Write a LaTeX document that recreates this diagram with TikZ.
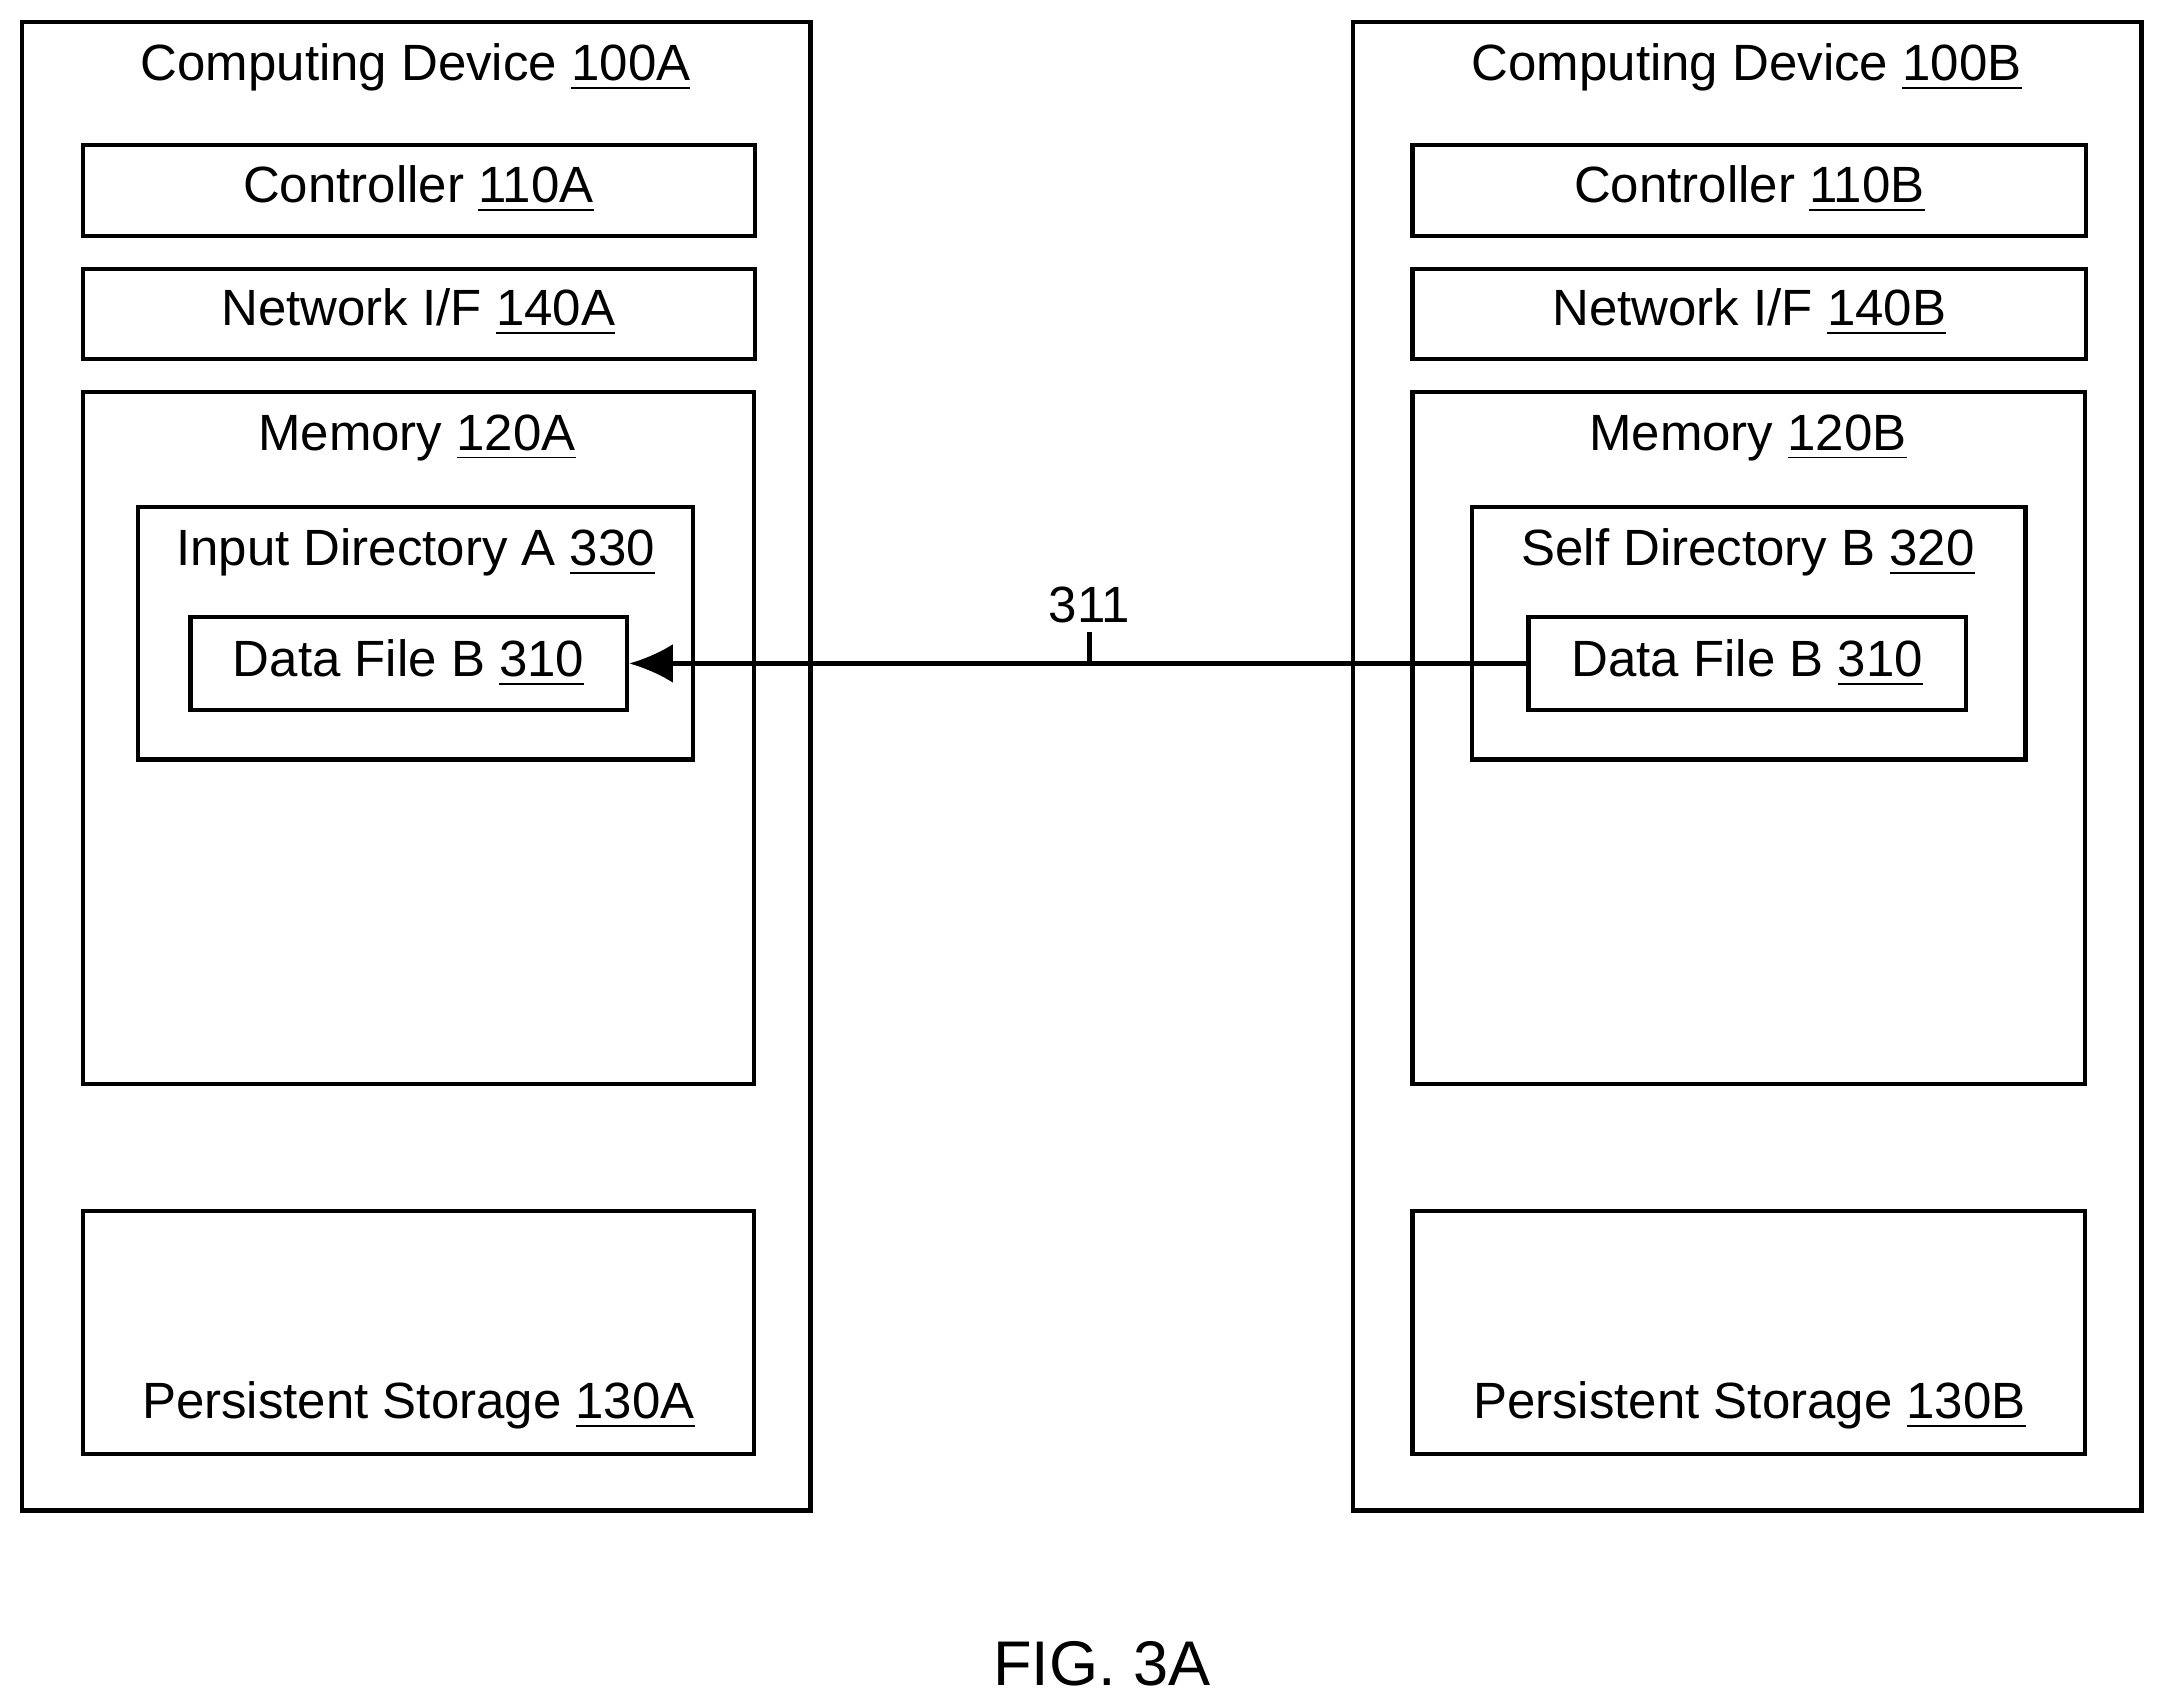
\documentclass[tikz,border=0pt]{standalone}
\usepackage{fontspec}
\setmainfont{Liberation Sans}
\usetikzlibrary{arrows.meta}
\tikzset{
  box/.style={draw,line width=0.9pt},
  lbl/.style={font=\fontsize{10.5}{12}\selectfont,inner sep=0pt},
}
\newcommand{\ul}[1]{\underline{#1}}
\begin{document}
\begin{tikzpicture}[x=0.01cm,y=-0.01cm]
\useasboundingbox (0,0) rectangle (1568,1236);

% device A
\draw[box] (16,16) rectangle (587,1094);
\node[lbl] (devA) at (301,49) {Computing Device \ul{100A}};
\draw[box] (60,105) rectangle (547,171);
\node[lbl] (ctlA) at (303,137) {Controller \ul{110A}};
\draw[box] (60,195) rectangle (547,260);
\node[lbl] (netA) at (303,226) {Network I/F \ul{140A}};
\draw[box] (60,284) rectangle (546,785);
\node[lbl] (memA) at (302,317) {Memory \ul{120A}};
\draw[box] (100,367) rectangle (502,550);
\node[lbl] (dirA) at (301,400) {Input Directory A \ul{330}};
\node[box,lbl,minimum width=3.16cm,minimum height=0.67cm] (fileA) at (296,480.5) {Data File B \ul{310}};
\draw[box] (60,877) rectangle (546,1053);
\node[lbl] (stoA) at (303,1018) {Persistent Storage \ul{130A}};

% device B
\draw[box] (980,16) rectangle (1551,1094);
\node[lbl] (devB) at (1265,49) {Computing Device \ul{100B}};
\draw[box] (1023,105) rectangle (1511,171);
\node[lbl] (ctlB) at (1267,137) {Controller \ul{110B}};
\draw[box] (1023,195) rectangle (1511,260);
\node[lbl] (netB) at (1267,226) {Network I/F \ul{140B}};
\draw[box] (1023,284) rectangle (1510,785);
\node[lbl] (memB) at (1266,317) {Memory \ul{120B}};
\draw[box] (1066,367) rectangle (1467,550);
\node[lbl] (dirB) at (1266,400) {Self Directory B \ul{320}};
\node[box,lbl,minimum width=3.17cm,minimum height=0.67cm] (fileB) at (1265.5,480.5) {Data File B \ul{310}};
\draw[box] (1023,877) rectangle (1510,1053);
\node[lbl] (stoB) at (1267,1018) {Persistent Storage \ul{130B}};

% transfer
\draw[line width=0.9pt,-{Latex[length=9pt,width=8pt]}] (fileB) -- (fileA);
\coordinate (tick) at (789,458);
\draw[line width=0.9pt] (tick) -- (789,481);
\node[lbl] (n311) at (789,438) {311};

\node[font=\fontsize{13}{15}\selectfont,inner sep=0pt] (fig) at (798,1205) {FIG. 3A};
\end{tikzpicture}
\end{document}
